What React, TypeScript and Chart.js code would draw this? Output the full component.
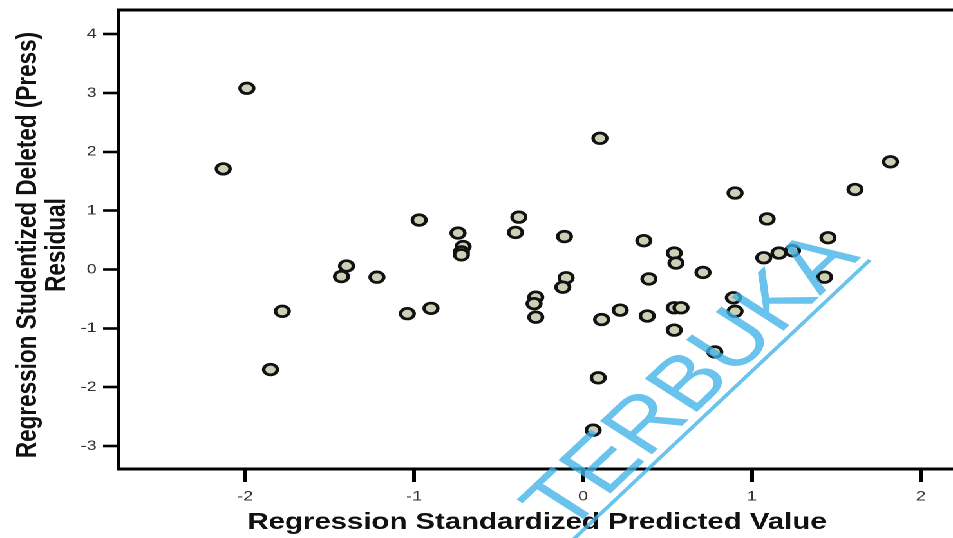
import React, { useEffect, useRef } from "react";
import { Chart, registerables } from "chart.js";

Chart.register(...registerables);

// Regression standardized predicted values (x) and studentized deleted residuals (y)
const predictedValues = [
  -1.99, -2.13, -1.78, -1.85, -1.40, -1.43, -1.22, -1.04, -0.90, -0.97,
  -0.74, -0.71, -0.72, -0.72, -0.38, -0.40, -0.28, -0.29, -0.28, -0.11,
  -0.10, -0.12, 0.10, 0.09, 0.06, 0.11, 0.22, 0.36, 0.39, 0.38,
  0.54, 0.55, 0.54, 0.58, 0.54, 0.71, 0.78, 0.90, 0.89, 0.90,
  1.09, 1.07, 1.16, 1.24, 1.45, 1.43, 1.61, 1.82,
];
const deletedResiduals = [
  3.08, 1.71, -0.71, -1.70, 0.06, -0.12, -0.13, -0.75, -0.66, 0.84,
  0.62, 0.39, 0.30, 0.25, 0.89, 0.63, -0.47, -0.58, -0.81, 0.56,
  -0.14, -0.30, 2.23, -1.84, -2.73, -0.85, -0.69, 0.49, -0.16, -0.79,
  0.28, 0.11, -0.65, -0.65, -1.03, -0.05, -1.40, 1.30, -0.48, -0.71,
  0.86, 0.20, 0.28, 0.32, 0.54, -0.13, 1.36, 1.83,
];

const xTickValues = [-2, -1, 0, 1, 2];
const yTickValues = [-3, -2, -1, 0, 1, 2, 3, 4];
const xRange = [-2.75, 2.19];
const yRange = [-3.39, 4.41];

const xAxisTitle = "Regression Standardized Predicted Value";
const yAxisTitle = ["Regression Studentized Deleted (Press)", "Residual"];
const watermarkText = "TERBUKA";

// The chart is laid out at a narrower width and widened horizontally.
const BASE_W = 740;
const BASE_H = 538;
const STRETCH = 953 / BASE_W;
const FONT = '"Liberation Sans", Arial, Helvetica, sans-serif';

const framePlugin = {
  id: "topFrame",
  afterDatasetsDraw(chart: any) {
    const { ctx, chartArea } = chart;
    ctx.save();
    ctx.strokeStyle = "#000";
    ctx.lineWidth = 3;
    ctx.beginPath();
    ctx.moveTo(chartArea.left - 1.5, chartArea.top);
    ctx.lineTo(chartArea.right, chartArea.top);
    ctx.stroke();
    ctx.restore();
  },
};

const axisTitlePlugin = {
  id: "axisTitles",
  afterDraw(chart: any) {
    const { ctx, chartArea } = chart;
    ctx.save();
    ctx.fillStyle = "#111";
    ctx.font = `bold 22.8px ${FONT}`;
    ctx.textAlign = "center";
    ctx.textBaseline = "alphabetic";
    ctx.fillText(xAxisTitle, (chartArea.left + chartArea.right) / 2 + 1, 529);
    ctx.font = `bold 22.5px ${FONT}`;
    ctx.translate(0, 245);
    ctx.rotate(-Math.PI / 2);
    ctx.fillText(yAxisTitle[0], 0, 28);
    ctx.fillText(yAxisTitle[1], 0, 50.5);
    ctx.restore();
  },
};

const watermarkPlugin = {
  id: "watermark",
  afterDraw(chart: any) {
    const { ctx } = chart;
    ctx.save();
    ctx.globalAlpha = 0.78;
    ctx.fillStyle = "#3fb2e8";
    ctx.strokeStyle = "#3fb2e8";
    // frame anchored at the upper end of the underline
    ctx.translate(675.5, 260);
    ctx.rotate((-50.5 * Math.PI) / 180);
    ctx.lineWidth = 3.2;
    ctx.beginPath();
    ctx.moveTo(-700, 0);
    ctx.lineTo(0, 0);
    ctx.stroke();
    ctx.font = `76px ${FONT}`;
    ctx.textAlign = "right";
    ctx.textBaseline = "alphabetic";
    ctx.fillText(watermarkText, -2, -7);
    ctx.restore();
  },
};

export default function App() {
  const canvasRef = useRef<HTMLCanvasElement | null>(null);

  useEffect(() => {
    const canvas = canvasRef.current;
    if (!canvas) return;
    const points = predictedValues.map((x, i) => ({ x, y: deletedResiduals[i] }));

    const chart = new Chart(canvas, {
      type: "scatter",
      data: {
        datasets: [
          {
            data: points,
            pointRadius: 5.3,
            pointBorderWidth: 2.7,
            pointBorderColor: "#111",
            pointBackgroundColor: "#cfcfb6",
            pointHoverRadius: 5.3,
          },
        ],
      },
      options: {
        responsive: false,
        animation: false,
        devicePixelRatio: 2,
        events: [],
        layout: { autoPadding: false, padding: { top: 10, left: 0, right: 0, bottom: 0 } },
        plugins: {
          legend: { display: false },
          tooltip: { enabled: false },
        },
        scales: {
          x: {
            type: "linear",
            position: "bottom",
            min: xRange[0],
            max: xRange[1],
            afterBuildTicks(scale: any) {
              scale.ticks = xTickValues.map((v) => ({ value: v }));
            },
            afterFit(scale: any) {
              scale.height = BASE_H - 469;
              scale.paddingLeft = 0;
              scale.paddingRight = 0;
            },
            grid: {
              drawOnChartArea: false,
              drawTicks: true,
              tickLength: 13,
              tickWidth: 3,
              tickColor: "#000",
            },
            border: { display: true, color: "#000", width: 3 },
            ticks: {
              color: "#333",
              font: { family: FONT, size: 14 },
              padding: 6,
              maxRotation: 0,
              autoSkip: false,
              callback: (v: any) => String(v),
            },
          },
          y: {
            type: "linear",
            min: yRange[0],
            max: yRange[1],
            afterBuildTicks(scale: any) {
              scale.ticks = yTickValues.map((v) => ({ value: v }));
            },
            afterFit(scale: any) {
              scale.width = 92;
              scale.paddingTop = 0;
              scale.paddingBottom = 0;
            },
            grid: {
              drawOnChartArea: false,
              drawTicks: true,
              tickLength: 12,
              tickWidth: 2.6,
              tickColor: "#000",
            },
            border: { display: true, color: "#000", width: 3 },
            ticks: {
              color: "#333",
              font: { family: FONT, size: 14 },
              padding: 5,
              autoSkip: false,
              callback: (v: any) => String(v),
            },
          },
        },
      },
      plugins: [framePlugin, axisTitlePlugin, watermarkPlugin],
    });

    return () => chart.destroy();
  }, []);

  return (
    <div
      style={{
        position: "fixed",
        left: 0,
        top: 0,
        width: BASE_W,
        height: BASE_H,
        background: "#fff",
        transform: `scaleX(${STRETCH})`,
        transformOrigin: "0 0",
      }}
    >
      <canvas ref={canvasRef} width={BASE_W} height={BASE_H} />
    </div>
  );
}
